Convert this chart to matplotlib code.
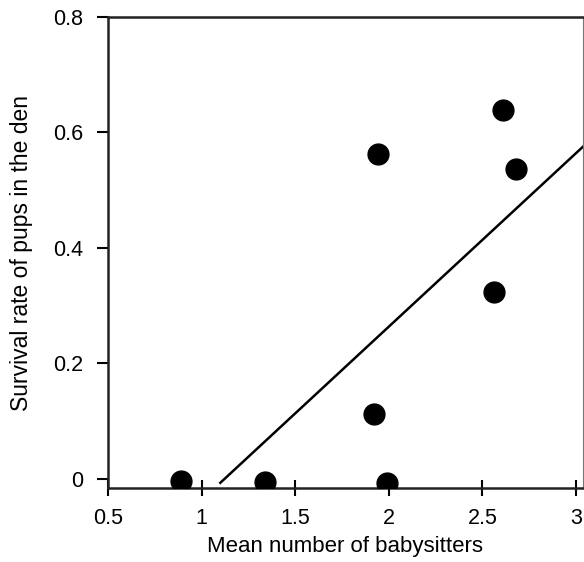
import numpy as np
import matplotlib.pyplot as plt

plt.rcParams['font.family'] = ['Liberation Sans', 'DejaVu Sans']

# Data
babysitters = [0.89, 1.34, 1.99, 1.92, 1.94, 2.56, 2.61, 2.68]
survival = [-0.004, -0.006, -0.007, 0.113, 0.563, 0.324, 0.639, 0.537]

# Fitted line end points
fit_x = [1.10, 3.05]
fit_y = [-0.007, 0.579]

xticks = [0.5, 1, 1.5, 2, 2.5, 3]
xtick_labels = ['0.5', '1', '1.5', '2', '2.5', '3']
yticks = [0, 0.2, 0.4, 0.6, 0.8]
ytick_labels = ['0', '0.2', '0.4', '0.6', '0.8']

fig = plt.figure(figsize=(5.84, 5.62), dpi=100)
ax = fig.add_axes([0.185, 0.1317, 0.813, 0.838])

ax.plot(babysitters, survival, 'o', color='black', markersize=15, zorder=3)
ax.plot(fit_x, fit_y, color='black', linewidth=1.8, zorder=2)

ax.set_xlim(0.5, 3.037)
ax.set_ylim(-0.016, 0.8)

ax.set_xticks(xticks)
ax.set_xticklabels(xtick_labels)
ax.set_yticks(yticks)
ax.set_yticklabels(ytick_labels)

ax.tick_params(axis='x', direction='inout', length=11, width=1.5, labelsize=15.5, pad=9)
ax.tick_params(axis='y', direction='out', length=8, width=1.5, labelsize=15.5, pad=10)

for side in ['left', 'bottom', 'top']:
    ax.spines[side].set_linewidth(1.8)
    ax.spines[side].set_color('#222222')
ax.spines['right'].set_linewidth(0.8)
ax.spines['right'].set_color('#777777')

ax.set_xlabel('Mean number of babysitters', fontsize=16, labelpad=5)
ax.set_ylabel('Survival rate of pups in the den', fontsize=16.5, labelpad=14)

fig.savefig('out.png', dpi=100)
